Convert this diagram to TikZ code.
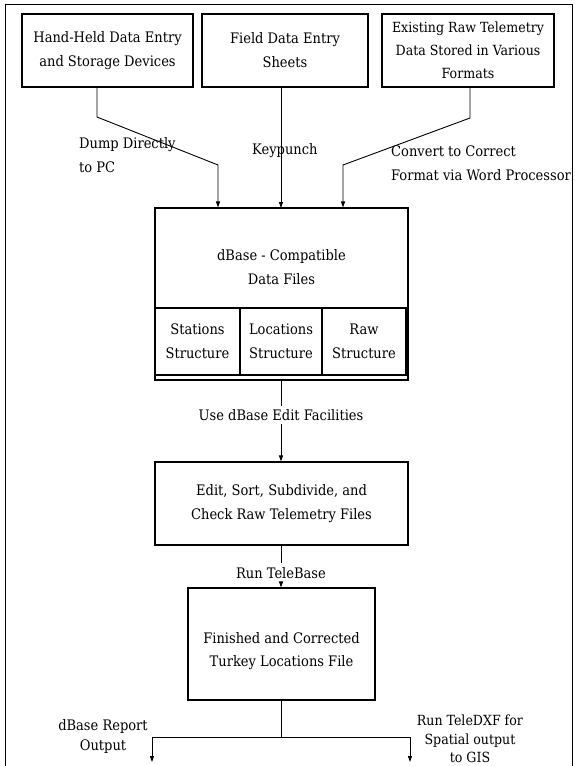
\documentclass[tikz,border=0pt]{standalone}
\usepackage{fontspec}
\setmainfont{DejaVu Serif Condensed}
\usetikzlibrary{arrows.meta}
\begin{document}
\begin{tikzpicture}[x=1pt,y=-1pt,
  box/.style={draw,line width=1.1pt,inner sep=0pt},
  lbl/.style={font=\fontsize{14.5}{24}\selectfont,align=center,inner sep=0pt},
  small/.style={font=\fontsize{14.5}{20}\selectfont},
  conn/.style={line width=0.9pt,-{Triangle[width=4pt,length=6pt]}},
  plain/.style={line width=0.9pt}]
\useasboundingbox (0,0) rectangle (575,766);
\draw[line width=0.8pt] (5,766) -- (5,4) -- (572,4) -- (572,766);
% top boxes
\node[box,minimum width=171pt,minimum height=73pt] (b1) at (107.5,50.5) {};
\node[lbl] at (b1) {Hand-Held Data Entry\\and Storage Devices};
\node[box,minimum width=166pt,minimum height=73pt] (b2) at (285,50.5) {};
\node[lbl] at (b2) {Field Data Entry\\Sheets};
\node[box,minimum width=172pt,minimum height=73pt] (b3) at (468,50.5) {};
\node[lbl,font=\fontsize{14}{23}\selectfont] at (b3) {Existing Raw Telemetry\\Data Stored in Various\\Formats};
% dBase box
\node[box,minimum width=253pt,minimum height=172pt] (db) at (281.5,294) {};
\draw[line width=1.1pt] (155,308) -- (408,308);
\node[lbl] at (281.5,267) {dBase - Compatible\\Data Files};
\node[box,minimum width=85pt,minimum height=67pt] (st) at (197.5,341.5) {};
\node[box,minimum width=82pt,minimum height=67pt] (lo) at (281,341.5) {};
\node[box,minimum width=84pt,minimum height=67pt] (rw) at (364,341.5) {};
\node[lbl] at (st) {Stations\\Structure};
\node[lbl] at (lo) {Locations\\Structure};
\node[lbl] at (rw) {Raw\\Structure};
% connectors top
\coordinate (c1a) at (97,117);
\coordinate (c1b) at (218,165);
\draw[conn] (b1.south -| c1a) -- (c1a) -- (c1b) -- (c1b |- db.north);
\draw[conn] (b2.south -| 281,0) -- (281,208);
\coordinate (c3a) at (470,118);
\coordinate (c3b) at (343,165);
\draw[conn] (b3.south -| c3a) -- (c3a) -- (c3b) -- (c3b |- db.north);
\node[lbl,align=left,anchor=west] (l1) at (79,155) {Dump Directly\\to PC};
\node[lbl,anchor=west] (l2) at (252,151) {Keypunch};
\node[lbl,align=left,anchor=west] (l3) at (391,163) {Convert to Correct\\Format via Word Processor};
% edit box
\node[box,minimum width=253pt,minimum height=83pt] (ed) at (281.5,503.5) {};
\node[lbl] at (ed) {Edit, Sort, Subdivide, and\\Check Raw Telemetry Files};
\node[lbl,inner sep=3pt] (u) at (281,415) {Use dBase Edit Facilities};
\draw[plain] (281,380) -- (u.north);
\draw[conn] (u.south) -- (ed.north -| 281,0);
% finished box
\node[box,minimum width=187pt,minimum height=112pt] (fi) at (281.5,644) {};
\node[lbl,font=\fontsize{14.5}{23}\selectfont] at (281.5,651) {Finished and Corrected\\Turkey Locations File};
\node[lbl,inner sep=4pt] (rt) at (281,573) {Run TeleBase};
\draw[plain] (ed.south -| 281,0) -- (rt.north);
\draw[conn] (rt.south) -- (fi.north -| 281,0);
% outputs
\coordinate (j) at (281,737);
\coordinate (jl) at (152,737);
\coordinate (jr) at (410,737);
\coordinate (el) at (152,762);
\coordinate (er) at (410,762);
\draw[plain] (fi.south -| 281,0) -- (j);
\draw[plain] (jl) -- (jr);
\draw[conn] (jl) -- (el);
\draw[conn] (jr) -- (er);
\node[lbl,small] (o1) at (103,736) {dBase Report\\Output};
\node[lbl,font=\fontsize{14}{18.5}\selectfont] (o2) at (470,739) {Run TeleDXF for\\Spatial output\\to GIS};
\end{tikzpicture}
\end{document}
